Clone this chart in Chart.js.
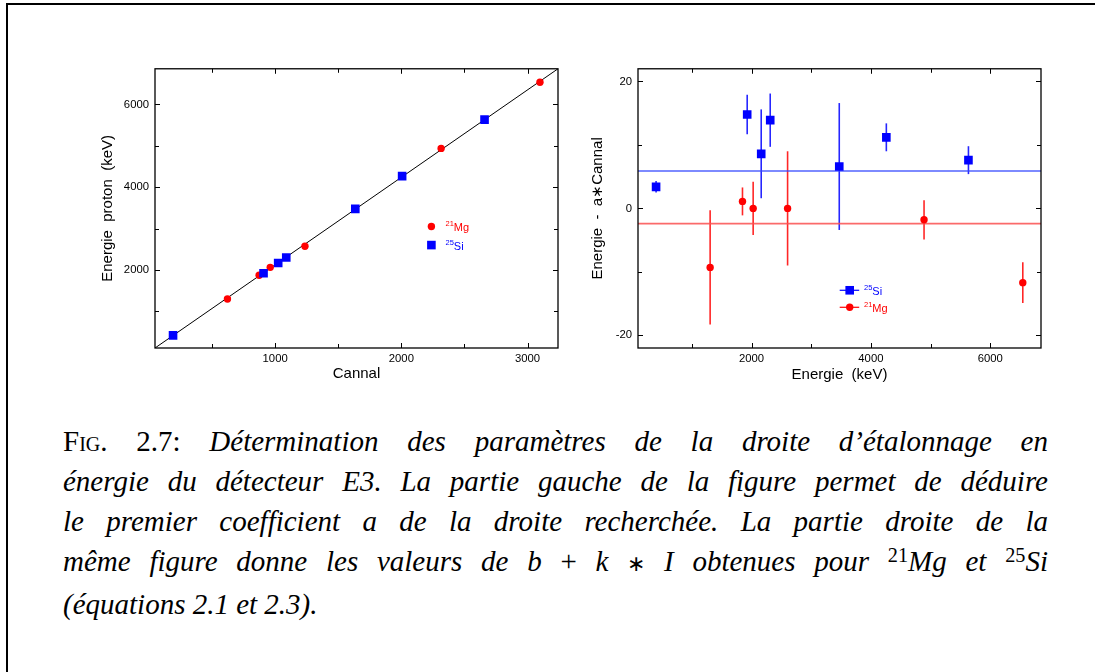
<!DOCTYPE html>
<html>
<head>
<meta charset="utf-8">
<script src="https://cdn.jsdelivr.net/npm/chart.js@4/dist/chart.umd.min.js"></script>
<style>
body{margin:0;width:1095px;height:672px;background:#fff;position:relative;overflow:hidden;font-family:"Liberation Sans",sans-serif}
#frame{position:absolute;left:6px;top:3px;width:1200px;height:800px;border-left:2px solid #000;border-top:2px solid #000}
.box{position:absolute;top:56px;width:480px;height:340px}
#caption{position:absolute;left:63px;top:421px;width:985px;font-family:"Liberation Serif",serif;font-size:29px;line-height:40px;font-style:italic;color:#000}
#caption div{text-align:justify;text-align-last:justify}
#caption div.last{text-align-last:left}
.up{font-style:normal}
.ast{font-style:normal;font-size:0.75em}
.sc{font-style:normal;font-variant:small-caps}
sup{font-size:0.7em;line-height:0;vertical-align:0.45em;font-style:normal}
</style>
</head>
<body>
<div id="frame"></div>
<div class="box" style="left:90px"><canvas id="left" width="480" height="340"></canvas></div>
<div class="box" style="left:580px"><canvas id="right" width="480" height="340"></canvas></div>
<div id="caption">
<div><span class="sc">Fig.</span> <span class="up">2.7:</span> Détermination des paramètres de la droite d’étalonnage en</div>
<div>énergie du détecteur E3. La partie gauche de la figure permet de déduire</div>
<div>le premier coefficient a de la droite recherchée. La partie droite de la</div>
<div>même figure donne les valeurs de b <span class="up">+</span> k <span class="ast">∗</span> I obtenues pour <sup>21</sup>Mg et <sup>25</sup>Si</div>
<div class="last">(équations 2.1 et 2.3).</div>
</div>
<script>
// left panel: canal vs proton energy
const mgCanal = [622, 873, 961, 1236, 2315, 3098];
const mgEnergy = [1298, 1872, 2064, 2575, 4938, 6535];
const siCanal = [191, 908, 1024, 1088, 1635, 2006, 2659];
const siEnergy = [419, 1920, 2168, 2303, 3477, 4268, 5633];
const fitCanal = [48, 3241];
const fitEnergy = [115, 6862];
const leftXTicks = [1000, 2000, 3000], leftXMinor = [500, 1500, 2500];
const leftYTicks = [2000, 4000, 6000], leftYMinor = [1000, 3000, 5000];

// right panel: residuals vs energy
const mgResE = [1306, 1848, 2027, 2604, 4891, 6546];
const mgRes = [-9.3, 1.1, 0, 0, -1.8, -11.7];
const mgErr = [9.0, 2.2, 4.2, 9.0, 3.1, 3.2];
const siResE = [400, 1927, 2162, 2313, 3470, 4259, 5635];
const siRes = [3.4, 14.8, 8.6, 13.9, 6.6, 11.2, 7.6];
const siErr = [0.9, 3.1, 7.0, 4.2, 10.0, 2.2, 2.2];
const siMean = 5.9, mgMean = -2.4;
const rightXRange = [97, 6851], rightYRange = [-22, 22];
const rightXTicks = [2000, 4000, 6000], rightXMinor = [1000, 3000, 5000];
const rightYTicks = [-20, 0, 20], rightYMinor = [-10, 10];

const RED = '#ff0000', BLUE = '#0000ff';
const FONT = '"Liberation Sans", sans-serif';
const pts = (xs, ys) => xs.map((x, i) => ({x, y: ys[i]}));

function marker(ctx, shape, x, y, color){
  ctx.fillStyle = color;
  if (shape === 'rect'){ ctx.fillRect(x-4.3, y-4.3, 8.6, 8.6); }
  else { ctx.beginPath(); ctx.arc(x, y, 3.7, 0, Math.PI*2); ctx.fill(); }
}

const framePlugin = {
  id: 'frame',
  beforeDatasetsDraw(chart, args, o){
    const {ctx} = chart, xs = chart.scales.x, ys = chart.scales.y;
    (o.errors || []).forEach(e => {
      ctx.save(); ctx.strokeStyle = e.color; ctx.lineWidth = 1.6;
      e.x.forEach((xv, i) => {
        const px = xs.getPixelForValue(xv);
        ctx.beginPath();
        ctx.moveTo(px, ys.getPixelForValue(e.y[i] - e.err[i]));
        ctx.lineTo(px, ys.getPixelForValue(e.y[i] + e.err[i]));
        ctx.stroke();
      });
      ctx.restore();
    });
  },
  afterDraw(chart, args, o){
    const {ctx, chartArea: a} = chart, xs = chart.scales.x, ys = chart.scales.y;
    ctx.save();
    ctx.strokeStyle = '#000'; ctx.lineWidth = 1.3;
    ctx.strokeRect(a.left, a.top, a.right - a.left, a.bottom - a.top);
    ctx.lineWidth = 1;
    const tx = (vals, len) => vals.forEach(v => {
      const p = Math.round(xs.getPixelForValue(v)) + 0.5;
      ctx.beginPath(); ctx.moveTo(p, a.bottom); ctx.lineTo(p, a.bottom - len);
      ctx.moveTo(p, a.top); ctx.lineTo(p, a.top + len); ctx.stroke();
    });
    const ty = (vals, len) => vals.forEach(v => {
      const p = Math.round(ys.getPixelForValue(v)) + 0.5;
      ctx.beginPath(); ctx.moveTo(a.left, p); ctx.lineTo(a.left + len, p);
      ctx.moveTo(a.right, p); ctx.lineTo(a.right - len, p); ctx.stroke();
    });
    tx(o.majorX, 5); tx(o.minorX, 4); ty(o.majorY, 5); ty(o.minorY, 4);
    (o.legend || []).forEach(l => {
      const x = a.left + l.dx, y = a.top + l.dy;
      if (l.line){
        ctx.strokeStyle = l.color; ctx.lineWidth = 1.2;
        ctx.beginPath(); ctx.moveTo(x - 10, y); ctx.lineTo(x + 9.5, y); ctx.stroke();
      }
      marker(ctx, l.shape, x, y, l.color);
      ctx.fillStyle = l.color; ctx.textBaseline = 'alphabetic'; ctx.textAlign = 'left';
      let t = a.left + l.tx;
      ctx.font = '7.5px ' + FONT; ctx.fillText(l.sup, t, y - 0.5);
      t += ctx.measureText(l.sup).width;
      ctx.font = '11px ' + FONT; ctx.fillText(l.text, t, y + 4.5);
    });
    ctx.restore();
  }
};

function axis(min, max, ticks, fitSize, title, tPad, tickPad){
  return {
    type: 'linear', min, max,
    afterBuildTicks(s){ s.ticks = ticks.map(v => ({value: v})); },
    afterFit(s){ if (s.isHorizontal()) s.height = fitSize; else s.width = fitSize; },
    grid: {display: false, drawTicks: false},
    border: {display: false},
    ticks: {color: '#000', font: {size: 11.3, family: FONT}, padding: tickPad, maxRotation: 0, callback: v => String(v)},
    title: {display: true, text: title, color: '#000', font: {size: 15, family: FONT}, padding: tPad}
  };
}

const base = {
  responsive: false, animation: false,
  plugins: {legend: {display: false}, tooltip: {enabled: false}},
};

new Chart(document.getElementById('left'), {
  type: 'scatter',
  data: {datasets: [
    {data: pts(siCanal, siEnergy), pointStyle: 'rect', pointRadius: 6.1, backgroundColor: BLUE, borderWidth: 0, order: 0},
    {data: pts(mgCanal, mgEnergy), pointStyle: 'circle', pointRadius: 3.7, backgroundColor: RED, borderWidth: 0, order: 1},
    {type: 'line', data: pts(fitCanal, fitEnergy), borderColor: '#000', borderWidth: 1, pointRadius: 0, order: 2}
  ]},
  options: Object.assign({}, base, {
    layout: {padding: {left: 0, top: 10, right: 12, bottom: 0}},
    scales: {
      x: axis(fitCanal[0], fitCanal[1], leftXTicks, 48, 'Cannal', {top: 0, bottom: 13}, 4),
      y: axis(fitEnergy[0], fitEnergy[1], leftYTicks, 65, 'Energie  proton  (keV)', {top: 9, bottom: 0}, 6)
    },
    plugins: Object.assign({}, base.plugins, {frame: {
      majorX: leftXTicks, minorX: leftXMinor, majorY: leftYTicks, minorY: leftYMinor,
      legend: [
        {dx: 276.4, dy: 157.7, tx: 290.5, shape: 'circle', color: RED, sup: '21', text: 'Mg'},
        {dx: 276.4, dy: 176.3, tx: 290.5, shape: 'rect', color: BLUE, sup: '25', text: 'Si'}
      ]
    }})
  }),
  plugins: [framePlugin]
});

new Chart(document.getElementById('right'), {
  type: 'scatter',
  data: {datasets: [
    {data: pts(siResE, siRes), pointStyle: 'rect', pointRadius: 6.1, backgroundColor: BLUE, borderWidth: 0, order: 0},
    {data: pts(mgResE, mgRes), pointStyle: 'circle', pointRadius: 3.7, backgroundColor: RED, borderWidth: 0, order: 1},
    {type: 'line', data: pts(rightXRange, [siMean, siMean]), borderColor: 'rgba(50,70,255,0.85)', borderWidth: 1.6, pointRadius: 0, order: 2},
    {type: 'line', data: pts(rightXRange, [mgMean, mgMean]), borderColor: 'rgba(250,80,80,0.85)', borderWidth: 1.8, pointRadius: 0, order: 2}
  ]},
  options: Object.assign({}, base, {
    layout: {padding: {left: 0, top: 10, right: 19, bottom: 0}},
    scales: {
      x: axis(rightXRange[0], rightXRange[1], rightXTicks, 48, 'Energie  (keV)', {top: 0, bottom: 12}, 4),
      y: axis(rightYRange[0], rightYRange[1], rightYTicks, 58, 'Energie  -  a∗Cannal', {top: 9, bottom: 0}, 6)
    },
    plugins: Object.assign({}, base.plugins, {frame: {
      majorX: rightXTicks, minorX: rightXMinor, majorY: rightYTicks, minorY: rightYMinor,
      errors: [
        {x: mgResE, y: mgRes, err: mgErr, color: 'rgba(255,0,0,0.85)'},
        {x: siResE, y: siRes, err: siErr, color: 'rgba(0,0,255,0.85)'}
      ],
      legend: [
        {dx: 211.7, dy: 221.5, tx: 226, shape: 'rect', line: true, color: BLUE, sup: '25', text: 'Si'},
        {dx: 211.7, dy: 238.5, tx: 226, shape: 'circle', line: true, color: RED, sup: '21', text: 'Mg'}
      ]
    }})
  }),
  plugins: [framePlugin]
});
</script>
</body>
</html>
